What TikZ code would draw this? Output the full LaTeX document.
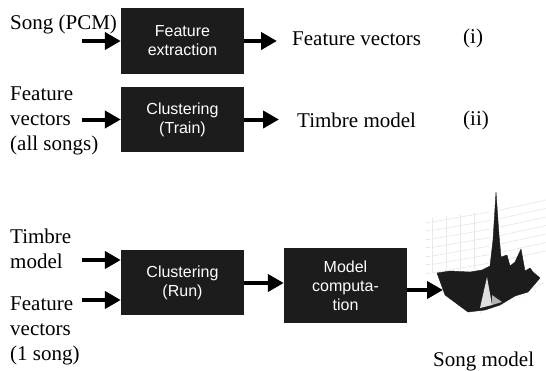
\documentclass[tikz,border=0pt]{standalone}
\usepackage{fontspec}
\setmainfont{Liberation Serif}
\newfontfamily\policebloc{Liberation Sans}
\usetikzlibrary{arrows.meta}
\definecolor{blocnoir}{HTML}{1C1C1C}
\definecolor{grille}{HTML}{E8E8E8}

\begin{document}
\begin{tikzpicture}[x=1pt,y=-1pt]
% Styles
\tikzstyle{fleche}=[-{Triangle[length=16pt,width=17pt]},line width=4pt]
\tikzstyle{bloc}=[fill=blocnoir,text=white,minimum width=123pt,inner sep=0pt,align=center,font=\policebloc\fontsize{16}{19}\selectfont]
\tikzstyle{texte}=[inner sep=0pt,align=left,font=\fontsize{21}{25}\selectfont]
\tikzstyle{surface}=[fill=blocnoir,draw=blocnoir,line join=round]
\tikzstyle{trame}=[draw=grille,line width=0.7pt]
\useasboundingbox (0,0) rectangle (546,370);
% Blocs
\node[bloc,minimum height=66pt] (extraction) at (182.5,41) {Feature\\extraction};
\node[bloc,minimum height=65pt] (apprentissage) at (182.5,119.5) {Clustering\\(Train)};
\node[bloc,minimum height=65pt] (execution) at (182.5,282.5) {Clustering\\(Run)};
\node[bloc,minimum height=75pt] (calcul) at (345.5,285.5) {Model\\computa-\\tion};
% Textes
\node[texte,anchor=base west] (pcm) at (10,29) {Song (PCM)};
\node[texte,anchor=base west] (vecteurs) at (292,45) {Feature vectors};
\node[texte,anchor=base west] (etape1) at (463,43) {(i)};
\node[texte,anchor=west] (tous) at (10,121) {Feature\\vectors\\(all songs)};
\node[texte,anchor=base west] (timbre) at (297,127) {Timbre model};
\node[texte,anchor=base west] (etape2) at (463,125) {(ii)};
\node[texte,anchor=west] (timbreb) at (10,249) {Timbre\\model};
\node[texte,anchor=west] (unique) at (10,331) {Feature\\vectors\\(1 song)};
\node[texte,anchor=base west] (modelechanson) at (433,366) {Song model};
% Points libres
\coordinate (e1) at (82,41);
\coordinate (s1) at (277,41);
\coordinate (e2) at (82,119.5);
\coordinate (s2) at (279,119.5);
\coordinate (e3a) at (82,260);
\coordinate (e3b) at (82,300);
\coordinate (m3) at (0,283);
\coordinate (modele) at (443,290);
% Graphique 3D : parois
\draw[trame] (432,218) -- (432,273);
\foreach \k in {0,...,6} {
  \draw[trame] (426,{222+8.5*\k}) -- (430,{222+8.5*\k});
  \draw[trame] (432,{222+8.5*\k}) -- (490,{212+8.5*\k});
  \draw[trame] (500,{210+8.5*\k}) -- (546,{200+8.5*\k});
}
\foreach \k in {1,2,3} {
  \draw[trame] ({432+14*\k},{218-2*\k}) -- ({432+14*\k},{273-1*\k});
}
\draw[trame] (437,273) -- (468,312) -- (544,283);
\foreach \k in {1,...,6} {
  \draw[trame] ({468+11*\k},{312-4.2*\k}) -- ({470+11*\k},{318-4.2*\k});
}
\foreach \k in {1,2,3} {
  \draw[trame] ({437+8*\k},{273+10*\k}) -- ({433+8*\k},{276+10*\k});
}
% Graphique 3D : surface
\filldraw[surface] (437,273) -- (450,271) -- (470,272) -- (482,270) -- (490,266)
  -- (493,240) -- (496,192) -- (499,235) -- (501,257) -- (507,255) -- (510,266)
  -- (515,262) -- (521,249) -- (525,271) -- (530,268) -- (533,272) -- (540,278)
  -- (528,292) -- (515,296) -- (500,305) -- (485,310) -- (468,312) -- (445,295) -- cycle;
\fill[gray!25] (487,277) -- (480,308) -- (492,305) -- cycle;
\fill[gray!60] (492,295) -- (502,302) -- (492,305) -- cycle;
% Fleches
\draw[fleche] (e1) -- (extraction);
\draw[fleche] (extraction.east) -- (s1);
\draw[fleche] (e2) -- (apprentissage);
\draw[fleche] (apprentissage.east) -- (s2);
\draw[fleche] (e3a) -- (e3a -| execution.west);
\draw[fleche] (e3b) -- (e3b -| execution.west);
\draw[fleche] (m3 -| execution.east) -- (m3 -| calcul.west);
\draw[fleche] (modele -| calcul.east) -- (modele);
\end{tikzpicture}
\end{document}
